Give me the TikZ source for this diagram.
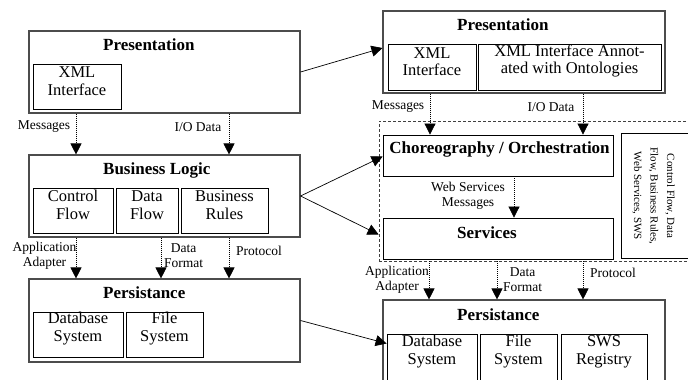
\documentclass[tikz,border=0pt]{standalone}
\usepackage{fontspec}
\setmainfont{Liberation Serif}
\usetikzlibrary{arrows.meta,fit}
\begin{document}
\begin{tikzpicture}[x=1pt,y=-1pt,
  outer/.style={draw=black!70, line width=1.1pt, inner sep=0pt},
  inbox/.style={draw=black, line width=0.8pt, inner sep=0pt, align=center,
    font=\fontsize{16.5}{17.5}\selectfont},
  ttl/.style={font=\bfseries\fontsize{17}{18}\selectfont, inner sep=0pt},
  lab/.style={font=\fontsize{13.5}{15}\selectfont, align=center, inner sep=0pt},
  flow/.style={line width=0.7pt, dash pattern=on 1pt off 1pt,
    -{Triangle[length=11pt,width=11pt]}},
  link/.style={line width=0.7pt, -{Triangle[length=11pt,width=11pt]}}]
\useasboundingbox (0,0) rectangle (688,380);
\clip (0,0) rectangle (688,380);
\fill[white] (0,0) rectangle (688,380);

% ---------- left column ----------
\node[outer, fit={(29,31) (300,113)}] (lpres) {};
\node[ttl, anchor=west] (lpresT) at (103,45) {Presentation};
\node[inbox, fit={(33,64) (121,109)}] (lxml) {XML\\Interface};

\node[outer, fit={(29,155) (300,237)}] (lbl) {};
\node[ttl, anchor=west] (lblT) at (103,170) {Business Logic};
\node[inbox, fit={(33,188) (113,233)}] (lcf) {Control\\Flow};
\node[inbox, fit={(116,188) (178,233)}] (ldf) {Data\\Flow};
\node[inbox, fit={(181,188) (268,233)}] (lbr) {Business\\Rules};

\node[outer, fit={(29,279) (300,362)}] (lper) {};
\node[ttl, anchor=west] (lperT) at (103,293) {Persistance};
\node[inbox, fit={(33,312) (123,357)}] (ldb) {Database\\System};
\node[inbox, fit={(126,312) (203,357)}] (lfs) {File\\System};

\coordinate (xa) at (76,0);
\coordinate (xb) at (161,0);
\coordinate (xc) at (229,0);
\draw[flow] (lpres.south -| xa) -- (lbl.north -| xa);
\draw[flow] (lpres.south -| xc) -- (lbl.north -| xc);
\draw[flow] (lbl.south -| xa) -- (lper.north -| xa);
\draw[flow] (lbl.south -| xb) -- (lper.north -| xb);
\draw[flow] (lbl.south -| xc) -- (lper.north -| xc);

\node[lab] (l1) at (44,127) {Messages};
\node[lab] (l2) at (198,127) {I/O Data};
\node[lab] (l3) at (44.5,255.5) {Application\\Adapter};
\node[lab] (l4) at (183.5,255.5) {Data\\Format};
\node[lab] (l5) at (259,251) {Protocol};

% ---------- right column ----------
\node[outer, fit={(383,11) (665,93)}] (rpres) {};
\node[ttl, anchor=west] (rpresT) at (457,25) {Presentation};
\node[inbox, fit={(388,44) (476,90)}] (rxml) {XML\\Interface};
\node[inbox, fit={(478,44) (661,90)}] (rxmla) {XML Interface Annot-\\ated with Ontologies};

\node[draw=black!75, line width=0.7pt, dash pattern=on 3pt off 2pt, inner sep=0pt,
  fit={(379,121) (720,261)}] (orch) {};

\node[inbox, fit={(383,135) (613,176)}] (choreo) {};
\node[ttl] (choreoT) at (499.5,149) {Choreography / Orchestration};
\node[inbox, fit={(383,218) (613,259)}] (serv) {};
\node[ttl, anchor=west] (servT) at (457,233) {Services};

\node[inbox, fit={(621,133) (710,258)}] (vbox) {};
\node[rotate=-90, align=center, inner sep=0pt, font=\fontsize{11}{16.5}\selectfont]
  (vtxt) at (653.5,196) {Control Flow, Data\\Flow, Business Rules,\\Web Services, SWS};

\node[outer, fit={(383,300) (665,400)}] (rper) {};
\node[ttl, anchor=west] (rperT) at (457,315) {Persistance};
\node[inbox, fit={(387,334) (477,381)}] (rdb) {Database\\System};
\node[inbox, fit={(480,334) (557,381)}] (rfs) {File\\System};
\node[inbox, fit={(561,334) (647,381)}] (rsws) {SWS\\Registry};

\coordinate (xd) at (430,0);
\coordinate (xe) at (583,0);
\coordinate (xf) at (514,0);
\coordinate (xg) at (429,0);
\coordinate (xh) at (497,0);
\draw[flow] (rpres.south -| xd) -- (choreo.north -| xd);
\draw[flow] (rpres.south -| xe) -- (choreo.north -| xe);
\draw[flow] (choreo.south -| xf) -- (serv.north -| xf);
\draw[flow] (serv.south -| xg) -- (rper.north -| xg);
\draw[flow] (serv.south -| xh) -- (rper.north -| xh);
\draw[flow] (serv.south -| xe) -- (rper.north -| xe);

\node[lab] (r1) at (398,107) {Messages};
\node[lab] (r2) at (551,107) {I/O Data};
\node[lab] (r3) at (468,195.5) {Web Services\\Messages};
\node[lab] (r4) at (397,279.5) {Application\\Adapter};
\node[lab] (r5) at (522.5,279.5) {Data\\Format};
\node[lab] (r6) at (613,273) {Protocol};

% ---------- cross links ----------
\draw[link] (lpres.east) -- ([yshift=4pt]rpres.west);
\draw[link] (lbl.east) -- ([yshift=-1pt]choreo.west);
\draw[link] (lbl.east) -- ([xshift=-4pt,yshift=4pt]serv.west);
\draw[link] (lper.east) -- ([yshift=14pt]rdb.west);
\end{tikzpicture}
\end{document}
